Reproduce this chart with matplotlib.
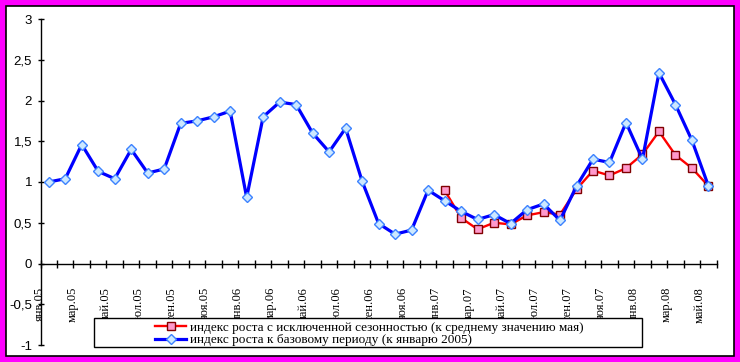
import numpy as np
import matplotlib
matplotlib.use('Agg')
import matplotlib.pyplot as plt
from matplotlib.patches import Rectangle
from matplotlib.transforms import ScaledTranslation

# months jan.05 .. may.08
month_names = ['янв', 'фев', 'мар', 'апр', 'май', 'июн',
               'июл', 'авг', 'сен', 'окт', 'ноя', 'дек']
years = ['05', '06', '07', '08']
months = [m + '.' + y for y in years for m in month_names][:41]

# индекс роста к базовому периоду (к январю 2005)
base_idx = [1.00, 1.04, 1.46, 1.13, 1.04, 1.40, 1.11, 1.16, 1.72, 1.75, 1.80, 1.87,
            0.81, 1.80, 1.98, 1.95, 1.60, 1.37, 1.66, 1.01, 0.49, 0.36, 0.41, 0.90,
            0.77, 0.64, 0.54, 0.60, 0.49, 0.66, 0.73, 0.53, 0.95, 1.28, 1.24, 1.73,
            1.28, 2.34, 1.95, 1.51, 0.95]
# индекс роста с исключенной сезонностью (starts jan.07)
seas_start = 24
seas_idx = [0.90, 0.56, 0.42, 0.50, 0.48, 0.59, 0.63, 0.60, 0.91, 1.14, 1.08, 1.17,
            1.34, 1.62, 1.33, 1.17, 0.95]

yticks = [-1, -0.5, 0, 0.5, 1, 1.5, 2, 2.5, 3]
ytick_labels = ['-1', '-0,5', '0', '0,5', '1', '1,5', '2', '2,5', '3']

lab_red = 'индекс роста с исключенной сезонностью (к среднему значению мая)'
lab_blue = 'индекс роста к базовому периоду (к январю 2005)'

fig = plt.figure(figsize=(7.4, 3.62), dpi=100)
fig.patch.set_facecolor('#FF00FF')
fig.add_artist(Rectangle((5.5/740, 6.5/362), 728/740, 350/362, transform=fig.transFigure,
                         facecolor='white', edgecolor='black', lw=1.2, zorder=-1))

ax = fig.add_axes([40.5/740, 17/362, 676.2/740, 326/362])
ax.patch.set_alpha(0)

x_all = np.arange(len(months))
x_seas = np.arange(seas_start, seas_start + len(seas_idx))

l_red, = ax.plot(x_seas, seas_idx, color='#FF0000', lw=1.7, marker='s', ms=5.5,
                 mfc='#FF99CC', mec='#800000', mew=1.0, zorder=3)
l_blue, = ax.plot(x_all, base_idx, color='#0000FF', lw=2.3, marker='D', ms=5,
                  mfc='#CCE8FF', mec='#3C82FF', mew=1.0, zorder=4)

ax.set_xlim(-0.5, len(months) - 0.5)
ax.set_ylim(-1, 3)
for s in ['top', 'right']:
    ax.spines[s].set_visible(False)
ax.spines['bottom'].set_position(('data', 0))
ax.spines['left'].set_linewidth(1.0)
ax.spines['bottom'].set_linewidth(1.0)

ax.set_yticks(yticks)
ax.set_yticklabels(ytick_labels, family='Liberation Sans', fontsize=9.5)
ax.tick_params(axis='y', direction='inout', length=4, width=1, pad=4)

# major ticks on category boundaries, labels on minor ticks
ax.set_xticks(np.arange(-0.5, len(months) + 0.5, 1))
ax.set_xticklabels([])
ax.tick_params(axis='x', which='major', direction='inout', length=5.5, width=1)
ax.set_xticks(x_all[::2], minor=True)
ax.set_xticklabels(months[::2], minor=True, rotation=90, family='Liberation Serif',
                   fontsize=9)
ax.tick_params(axis='x', which='minor', length=0, pad=17)
shift = ScaledTranslation(-0.09, 0, fig.dpi_scale_trans)
for t in ax.get_xticklabels(minor=True):
    t.set_transform(t.get_transform() + shift)

# legend box
fig.add_artist(Rectangle((94.3/740, 15/362), 548/740, 28.7/362, transform=fig.transFigure,
                         facecolor='white', edgecolor='black', lw=1.0, zorder=6))
leg = fig.legend([l_red, l_blue], [lab_red, lab_blue], loc='center',
                 bbox_to_anchor=(369/740, 28/362), frameon=False, numpoints=1,
                 handlelength=2.4, handletextpad=0.25, labelspacing=0.0, borderpad=0,
                 prop={'family': 'Liberation Serif', 'size': 9.5})
leg.set_zorder(7)

fig.savefig('out.png', dpi=100, facecolor=fig.get_facecolor())
